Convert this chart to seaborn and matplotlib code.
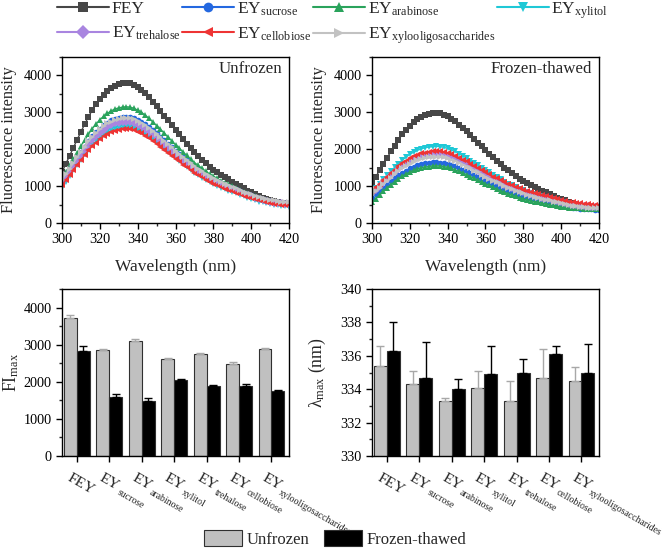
import math
import numpy as np
import pandas as pd
import matplotlib
matplotlib.use("Agg")
import matplotlib.pyplot as plt
from matplotlib.lines import Line2D
from matplotlib.patches import Patch
from matplotlib.ticker import MultipleLocator
import seaborn as sns

sns.set_style("ticks")
plt.rcParams['font.family'] = ['Liberation Serif', 'DejaVu Serif']
plt.rcParams['mathtext.fontset'] = 'custom'
plt.rcParams['mathtext.rm'] = 'Liberation Serif'
plt.rcParams['mathtext.it'] = 'Liberation Serif:italic'

# ---------------------------------------------------------------- data -----
wavelength = list(range(300, 421, 2))

bases = ["FEY", "EY", "EY", "EY", "EY", "EY", "EY"]
subs = ["", "sucrose", "arabinose", "xylitol", "trehalose", "cellobiose", "xylooligosaccharides"]
samples = [b if not s else b + "$_{\\mathregular{" + s + "}}$" for b, s in zip(bases, subs)]
colors = ["#474747", "#2468e0", "#2aa35c", "#1fc8d6", "#a985e0", "#ee3434", "#c2c2c2"]
markers = ["s", "o", "^", "v", "D", "<", ">"]

# unfrozen spectra
uf_fey = [1380, 1600, 1820, 2040, 2260, 2470, 2680, 2880, 3060, 3220, 3360, 3480, 3580, 3660, 3720,
          3760, 3790, 3800, 3790, 3750, 3690, 3610, 3520, 3410, 3290, 3170, 3040, 2910, 2780, 2650,
          2520, 2400, 2270, 2150, 2030, 1920, 1820, 1720, 1620, 1530, 1450, 1380, 1310, 1240, 1180,
          1120, 1060, 1000, 940, 880, 830, 780, 730, 690, 650, 620, 590, 570, 550, 530, 520]
uf_suc = [1140, 1300, 1460, 1620, 1770, 1920, 2070, 2220, 2350, 2460, 2560, 2650, 2720, 2780, 2820,
          2850, 2870, 2880, 2870, 2840, 2800, 2740, 2680, 2600, 2510, 2430, 2330, 2240, 2150, 2050,
          1960, 1880, 1780, 1700, 1610, 1530, 1460, 1390, 1310, 1250, 1190, 1140, 1090, 1040, 1000,
          960, 910, 870, 820, 780, 750, 710, 670, 650, 620, 600, 570, 560, 550, 530, 520]
uf_ara = [1210, 1380, 1560, 1740, 1910, 2080, 2250, 2410, 2560, 2680, 2800, 2890, 2970, 3040, 3090,
          3120, 3140, 3150, 3140, 3110, 3060, 3000, 2920, 2840, 2740, 2640, 2540, 2440, 2330, 2230,
          2120, 2030, 1920, 1830, 1730, 1640, 1560, 1480, 1400, 1330, 1270, 1210, 1150, 1090, 1050,
          1000, 950, 900, 850, 810, 760, 730, 690, 660, 620, 600, 570, 560, 540, 520, 520]
uf_xyl = [950, 1110, 1270, 1430, 1580, 1720, 1860, 1990, 2110, 2220, 2310, 2390, 2460, 2510, 2550,
          2570, 2590, 2600, 2590, 2570, 2530, 2480, 2420, 2340, 2270, 2190, 2100, 2020, 1930, 1840,
          1760, 1680, 1590, 1520, 1440, 1360, 1300, 1230, 1170, 1110, 1060, 1010, 960, 920, 880,
          840, 800, 760, 720, 680, 650, 610, 580, 560, 530, 510, 490, 480, 460, 450, 440]
uf_tre = [1090, 1250, 1400, 1550, 1700, 1840, 1980, 2120, 2240, 2350, 2450, 2530, 2600, 2650, 2700,
          2720, 2740, 2750, 2740, 2720, 2670, 2620, 2560, 2480, 2400, 2320, 2230, 2140, 2050, 1960,
          1870, 1790, 1700, 1620, 1540, 1460, 1400, 1330, 1260, 1200, 1140, 1090, 1050, 1000, 960,
          920, 880, 830, 790, 750, 720, 680, 650, 620, 590, 570, 550, 540, 530, 510, 510]
uf_cel = [1020, 1160, 1300, 1440, 1580, 1710, 1840, 1970, 2080, 2180, 2270, 2350, 2410, 2460, 2500,
          2520, 2540, 2550, 2540, 2520, 2480, 2430, 2370, 2300, 2230, 2150, 2070, 1990, 1910, 1820,
          1740, 1670, 1580, 1510, 1430, 1360, 1300, 1240, 1170, 1120, 1070, 1020, 980, 930, 900,
          860, 820, 780, 740, 710, 670, 640, 610, 590, 560, 540, 520, 510, 500, 480, 480]
uf_xos = [1160, 1320, 1470, 1620, 1780, 1920, 2070, 2210, 2330, 2440, 2540, 2630, 2700, 2750, 2790,
          2820, 2840, 2850, 2840, 2820, 2770, 2720, 2650, 2580, 2490, 2410, 2320, 2230, 2140, 2050,
          1960, 1870, 1780, 1700, 1620, 1540, 1470, 1400, 1330, 1270, 1210, 1160, 1110, 1060, 1020,
          980, 940, 900, 850, 810, 780, 740, 710, 680, 650, 630, 610, 600, 580, 570, 560]

# frozen-thawed spectra
ft_fey = [1080, 1250, 1430, 1600, 1770, 1940, 2100, 2260, 2400, 2520, 2630, 2730, 2810, 2870, 2920,
          2950, 2970, 2980, 2970, 2940, 2890, 2830, 2760, 2670, 2580, 2490, 2380, 2280, 2180, 2080,
          1980, 1880, 1780, 1690, 1590, 1500, 1430, 1350, 1270, 1200, 1140, 1080, 1030, 970, 930,
          880, 830, 780, 740, 690, 650, 610, 570, 540, 510, 490, 460, 450, 430, 410, 410]
ft_suc = [690, 780, 870, 960, 1040, 1130, 1210, 1290, 1360, 1420, 1480, 1520, 1560, 1590, 1620,
          1630, 1650, 1650, 1640, 1630, 1610, 1580, 1540, 1500, 1450, 1400, 1350, 1300, 1250, 1200,
          1140, 1100, 1050, 1000, 950, 910, 870, 830, 790, 750, 720, 690, 670, 640, 620,
          590, 570, 540, 520, 500, 480, 460, 440, 420, 410, 390, 380, 380, 370, 360, 360]
ft_ara = [560, 660, 760, 860, 950, 1040, 1120, 1200, 1270, 1330, 1380, 1430, 1470, 1500, 1520,
          1530, 1550, 1550, 1550, 1530, 1510, 1480, 1440, 1400, 1360, 1310, 1260, 1210, 1160, 1110,
          1060, 1020, 970, 920, 870, 830, 790, 760, 720, 680, 650, 630, 600, 580, 560,
          540, 520, 500, 480, 460, 440, 430, 420, 410, 400, 400, 390, 390, 380, 380, 380]
ft_xyl = [850, 960, 1070, 1190, 1300, 1400, 1510, 1610, 1700, 1790, 1860, 1920, 1970, 2010, 2040,
          2060, 2070, 2080, 2070, 2050, 2020, 1980, 1940, 1880, 1820, 1760, 1690, 1630, 1560, 1500,
          1430, 1370, 1300, 1240, 1180, 1120, 1070, 1020, 970, 930, 890, 850, 820, 780, 750,
          720, 690, 660, 630, 600, 570, 550, 520, 500, 480, 460, 450, 440, 430, 420, 410]
ft_tre = [810, 900, 1000, 1100, 1190, 1290, 1380, 1470, 1540, 1610, 1680, 1730, 1770, 1810, 1830,
          1850, 1870, 1870, 1860, 1850, 1820, 1790, 1750, 1700, 1650, 1590, 1540, 1480, 1420, 1360,
          1310, 1260, 1200, 1150, 1090, 1040, 1000, 960, 910, 870, 840, 810, 780, 740, 720,
          690, 670, 640, 610, 590, 560, 540, 520, 500, 490, 470, 460, 450, 440, 430, 430]
ft_cel = [870, 970, 1060, 1160, 1260, 1360, 1450, 1540, 1620, 1690, 1750, 1810, 1850, 1890, 1910,
          1930, 1940, 1950, 1940, 1930, 1900, 1870, 1820, 1770, 1720, 1670, 1610, 1550, 1490, 1430,
          1380, 1320, 1260, 1210, 1160, 1110, 1060, 1020, 970, 940, 900, 870, 840, 800, 780,
          750, 720, 700, 670, 640, 620, 600, 580, 560, 540, 530, 510, 510, 500, 490, 480]
ft_xos = [770, 860, 960, 1050, 1140, 1230, 1320, 1410, 1480, 1550, 1610, 1660, 1710, 1740, 1770,
          1780, 1790, 1800, 1790, 1780, 1750, 1720, 1680, 1630, 1580, 1530, 1480, 1420, 1370, 1310,
          1250, 1200, 1150, 1100, 1050, 1000, 960, 910, 870, 830, 800, 770, 740, 710, 680,
          660, 630, 610, 580, 560, 530, 510, 490, 470, 460, 440, 430, 420, 410, 410, 400]

unfrozen_spectra = [uf_fey, uf_suc, uf_ara, uf_xyl, uf_tre, uf_cel, uf_xos]
frozen_spectra = [ft_fey, ft_suc, ft_ara, ft_xyl, ft_tre, ft_cel, ft_xos]

# maximum fluorescence intensity (mean, sd)
fi_unfrozen = [3730, 2860, 3110, 2610, 2740, 2490, 2880]
fi_unfrozen_sd = [60, 20, 30, 30, 25, 50, 20]
fi_frozen = [2840, 1600, 1490, 2060, 1880, 1890, 1740]
fi_frozen_sd = [130, 60, 60, 25, 25, 40, 30]

# maximum emission wavelength (mean, sd)
lam_unfrozen = [335.4, 334.3, 333.3, 334.1, 333.3, 334.7, 334.5]
lam_unfrozen_sd = [1.2, 0.8, 0.2, 1.0, 1.2, 1.7, 0.8]
lam_frozen = [336.3, 334.7, 334.0, 334.9, 335.0, 336.1, 335.0]
lam_frozen_sd = [1.7, 2.1, 0.6, 1.7, 0.8, 0.5, 1.7]

conditions = ["Unfrozen", "Frozen-thawed"]

# ------------------------------------------------------------- figure -----
fig = plt.figure(figsize=(6.66, 5.49), dpi=100)
W, H = 666, 549
renderer = fig.canvas.get_renderer()


def box(x0, y0, x1, y1):
    return [x0 / W, 1 - y1 / H, (x1 - x0) / W, (y1 - y0) / H]


ax_tl = fig.add_axes(box(62, 57, 289, 223))
ax_tr = fig.add_axes(box(372, 57, 599, 223))
ax_bl = fig.add_axes(box(62, 289, 289, 456))
ax_br = fig.add_axes(box(372, 289, 599, 456))

TICK = 10.2
XLAB = 12.5
YLAB = 11.8


def style(ax):
    for s in ax.spines.values():
        s.set_linewidth(1.0)
        s.set_color("black")
    ax.tick_params(direction="out", length=4, width=1, labelsize=TICK, colors="black")
    ax.tick_params(which="minor", direction="out", length=2.5, width=1)


# spectra
for ax, spectra, tag in [(ax_tl, unfrozen_spectra, "Unfrozen"), (ax_tr, frozen_spectra, "Frozen-thawed")]:
    for vals, c, m in zip(spectra, colors, markers):
        sns.lineplot(x=wavelength, y=vals, ax=ax, color=c, marker=m, markersize=4,
                     markeredgewidth=0, linewidth=1)
    ax.set_xlim(300, 420)
    ax.set_ylim(0, 4500)
    ax.xaxis.set_major_locator(MultipleLocator(20))
    ax.xaxis.set_minor_locator(MultipleLocator(10))
    ax.yaxis.set_major_locator(MultipleLocator(1000))
    ax.yaxis.set_minor_locator(MultipleLocator(500))
    ax.set_xlabel("Wavelength (nm)", fontsize=XLAB, labelpad=9)
    ax.set_ylabel("Fluorescence intensity", fontsize=YLAB, labelpad=5)
    ax.text(0.97, 0.975, tag, transform=ax.transAxes, ha="right", va="top", fontsize=12.2)
    style(ax)

# bars
bar_colors = {"Unfrozen": "#c0c0c0", "Frozen-thawed": "black"}
err_colors = ["#a8a8a8", "black"]
idx = np.arange(len(samples))

ROT = 30
MAIN_FS, SUB_FS = 11, 7
u = (math.cos(math.radians(ROT)), -math.sin(math.radians(ROT)))
d = (-math.sin(math.radians(ROT)), -math.cos(math.radians(ROT)))
start = (-7.5, -17.5)


def rotated_labels(ax):
    ax.set_xticklabels([])
    for k, (b, s) in enumerate(zip(bases, subs)):
        ax.annotate(b, xy=(k, 0), xycoords=ax.get_xaxis_transform(), xytext=start,
                    textcoords="offset points", rotation=-ROT, rotation_mode="anchor",
                    ha="left", va="baseline", fontsize=MAIN_FS, annotation_clip=False)
        if s:
            t = fig.text(0, 0, b, fontsize=MAIN_FS)
            w = t.get_window_extent(renderer).width * 72 / fig.dpi + 1.2
            t.remove()
            drop = 2.6
            off = (start[0] + w * u[0] + drop * d[0], start[1] + w * u[1] + drop * d[1])
            ax.annotate(s, xy=(k, 0), xycoords=ax.get_xaxis_transform(), xytext=off,
                        textcoords="offset points", rotation=-ROT, rotation_mode="anchor",
                        ha="left", va="baseline", fontsize=SUB_FS, annotation_clip=False)


def bars(ax, m_uf, sd_uf, m_ft, sd_ft):
    df = pd.DataFrame({
        "sample": samples * 2,
        "value": m_uf + m_ft,
        "condition": [conditions[0]] * len(samples) + [conditions[1]] * len(samples),
    })
    sns.barplot(data=df, x="sample", y="value", hue="condition", palette=bar_colors,
                errorbar=None, edgecolor="#303030", linewidth=0.8, ax=ax, legend=False)
    ax.errorbar(idx - 0.2, m_uf, yerr=[np.zeros(len(sd_uf)), sd_uf], fmt="none",
                ecolor=err_colors[0], elinewidth=1, capsize=3, capthick=1)
    ax.errorbar(idx + 0.2, m_ft, yerr=[np.zeros(len(sd_ft)), sd_ft], fmt="none",
                ecolor=err_colors[1], elinewidth=1, capsize=3, capthick=1)
    ax.set_xlim(-0.46, 6.54)
    ax.set_xlabel("")
    ax.set_xticks(idx)
    style(ax)
    rotated_labels(ax)


bars(ax_bl, fi_unfrozen, fi_unfrozen_sd, fi_frozen, fi_frozen_sd)
ax_bl.set_ylim(0, 4500)
ax_bl.yaxis.set_major_locator(MultipleLocator(1000))
ax_bl.yaxis.set_minor_locator(MultipleLocator(500))
ax_bl.set_ylabel("FI$_{\\mathregular{max}}$", fontsize=YLAB + 1, labelpad=2)

bars(ax_br, lam_unfrozen, lam_unfrozen_sd, lam_frozen, lam_frozen_sd)
ax_br.set_ylim(330, 340)
ax_br.yaxis.set_major_locator(MultipleLocator(2))
ax_br.yaxis.set_minor_locator(MultipleLocator(1))
ax_br.set_ylabel("λ$_{\\mathregular{max}}$ (nm)", fontsize=YLAB + 1, labelpad=9)

# legends
handles = [Line2D([], [], color=c, marker=m, markersize=7, markeredgewidth=0, linewidth=1.5)
           for c, m in zip(colors, markers)]
order = [0, 4, 1, 5, 2, 6, 3]
fig.legend([handles[i] for i in order], [samples[i] for i in order], ncol=4,
           loc="upper left", bbox_to_anchor=(57 / W, 1 - 0 / H), frameon=False,
           fontsize=12.5, handlelength=3.0, handletextpad=0.15, columnspacing=0.1,
           borderpad=0, borderaxespad=0, labelspacing=0.45)

patches = [Patch(facecolor=bar_colors[c], edgecolor="#303030", linewidth=0.8) for c in conditions]
fig.legend(patches, conditions, ncol=2, loc="center", bbox_to_anchor=(335 / W, 1 - 539 / H),
           frameon=False, fontsize=12, handlelength=2.3, handleheight=1.1,
           handletextpad=0.25, columnspacing=0.9, borderpad=0, borderaxespad=0)

fig.savefig("out.png", dpi=100)
